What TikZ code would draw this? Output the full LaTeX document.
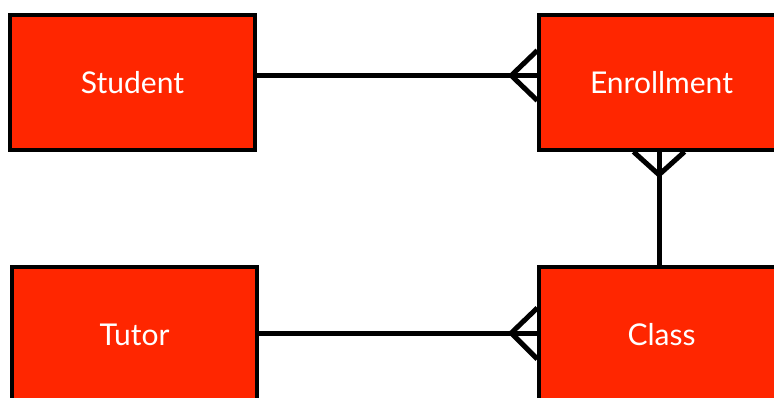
\documentclass[tikz,border=0pt]{standalone}
\usepackage{fontspec}
\newfontfamily\labfont{Lato}
\definecolor{entred}{RGB}{255,38,0}
\tikzset{
  entity/.style={rectangle, draw=black, line width=3.5pt, fill=entred,
    minimum width=245pt, minimum height=135pt, inner sep=0pt,
    text=white, font=\labfont\fontsize{30}{36}\selectfont},
  rel/.style={draw=black, line width=5pt, line join=miter}
}
\begin{document}
\begin{tikzpicture}[x=1pt,y=-1pt]
\clip (0,0) rectangle (774,397);
\fill[white] (0,0) rectangle (774,397);
\node[entity] (student) at (132.5,82.5) {Student};
\node[entity] (enroll) at (661.5,82.5) {Enrollment};
\node[entity] (tutor) at (134.5,334.5) {Tutor};
\node[entity] (class) at (661.5,334.5) {Class};
% Student -- Enrollment (many at Enrollment)
\draw[rel] ([yshift=7pt]student.east) -- ([yshift=7pt]enroll.west);
\draw[rel] ([yshift=32pt]enroll.west) -- ([xshift=-26pt,yshift=7pt]enroll.west) -- ([yshift=-18pt]enroll.west);
% Enrollment -- Class (many at Enrollment)
\draw[rel] ([xshift=-2.5pt]enroll.south) -- ([xshift=-2.5pt]class.north);
\draw[rel] ([xshift=-28pt]enroll.south) -- ([xshift=-2.5pt,yshift=-23pt]enroll.south) -- ([xshift=23pt]enroll.south);
% Tutor -- Class (many at Class)
\draw[rel] ([yshift=1.5pt]tutor.east) -- ([yshift=1.5pt]class.west);
\draw[rel] ([yshift=26.5pt]class.west) -- ([xshift=-26pt,yshift=1.5pt]class.west) -- ([yshift=-24.5pt]class.west);
\end{tikzpicture}
\end{document}
